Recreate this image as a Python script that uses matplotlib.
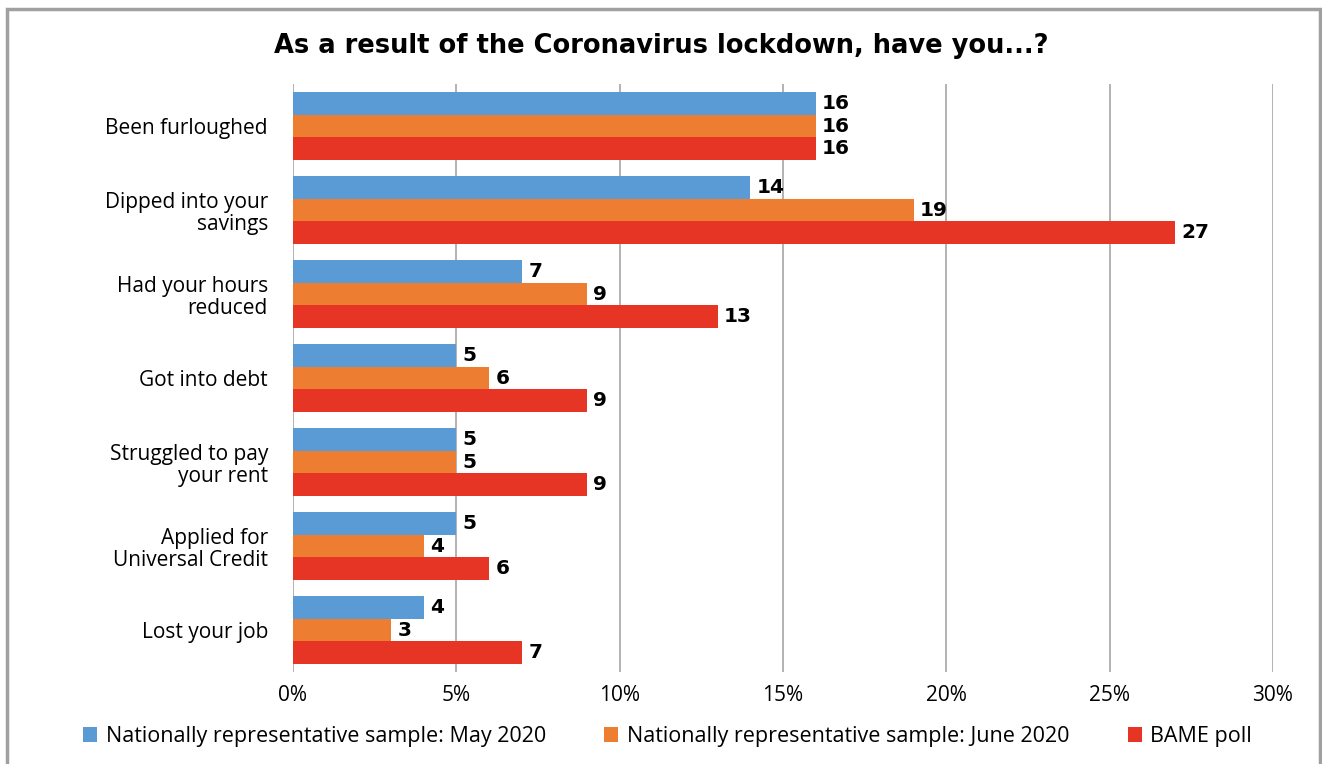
import numpy as np
import matplotlib
matplotlib.use("Agg")
import matplotlib.pyplot as plt
from matplotlib.patches import Rectangle, Patch

categories = ["Been furloughed", "Dipped into your\nsavings", "Had your hours\nreduced",
              "Got into debt", "Struggled to pay\nyour rent", "Applied for\nUniversal Credit",
              "Lost your job"]
may_2020 = [16, 14, 7, 5, 5, 5, 4]
june_2020 = [16, 19, 9, 6, 5, 4, 3]
bame_poll = [16, 27, 13, 9, 9, 6, 7]
series_names = ["Nationally representative sample: May 2020",
                "Nationally representative sample: June 2020",
                "BAME poll"]
xticks = [0, 5, 10, 15, 20, 25, 30]

colors = ["#5B9BD5", "#ED7D31", "#E63425"]
label_font = "Open Sans"

fig = plt.figure(figsize=(13.22, 7.64), dpi=100)
ax = fig.add_axes([0.2216, 0.1204, 0.7413, 0.7696])

y = np.arange(len(categories))
h = 0.27
for i, (vals, c) in enumerate(zip([may_2020, june_2020, bame_poll], colors)):
    pos = y + (i - 1) * h
    ax.barh(pos, vals, height=h, color=c, zorder=2)
    for p, v in zip(pos, vals):
        ax.text(v + 0.2, p, str(v), va="center", ha="left",
                fontsize=14.5, fontweight="heavy", color="black")

ax.set_ylim(len(categories) - 0.5, -0.5)
ax.set_xlim(0, 30)
ax.set_xticks(xticks)
ax.set_xticklabels([f"{t}%" for t in xticks], fontsize=15, family=label_font)
ax.set_yticks(y)
ax.set_yticklabels(categories, fontsize=15, family=label_font, ha="right",
                   multialignment="right", linespacing=1.1)
ax.tick_params(axis="both", length=0)
ax.tick_params(axis="x", pad=9)
ax.tick_params(axis="y", pad=18)
ax.grid(axis="x", color="#A6A6A6", linewidth=1.2, zorder=0)
for s in ax.spines.values():
    s.set_visible(False)

fig.text(0.5, 0.94, "As a result of the Coronavirus lockdown, have you...?",
         ha="center", va="center", fontsize=18.5, fontweight="heavy")

handles = [Patch(facecolor=c) for c in colors]
fig.legend(handles, series_names, loc="center", bbox_to_anchor=(0.505, 0.036),
           ncol=3, frameon=False, handlelength=0.65, handleheight=0.65,
           handletextpad=0.4, columnspacing=2.7,
           prop={"family": label_font, "size": 15.5})

# grey frame round the figure
fig.patches.append(Rectangle((7 / 1322, -0.05), 1313 / 1322, 1.05 - 9 / 764,
                             transform=fig.transFigure, fill=False,
                             edgecolor="#A0A0A0", linewidth=2.5))

fig.savefig("out.png", dpi=100)
